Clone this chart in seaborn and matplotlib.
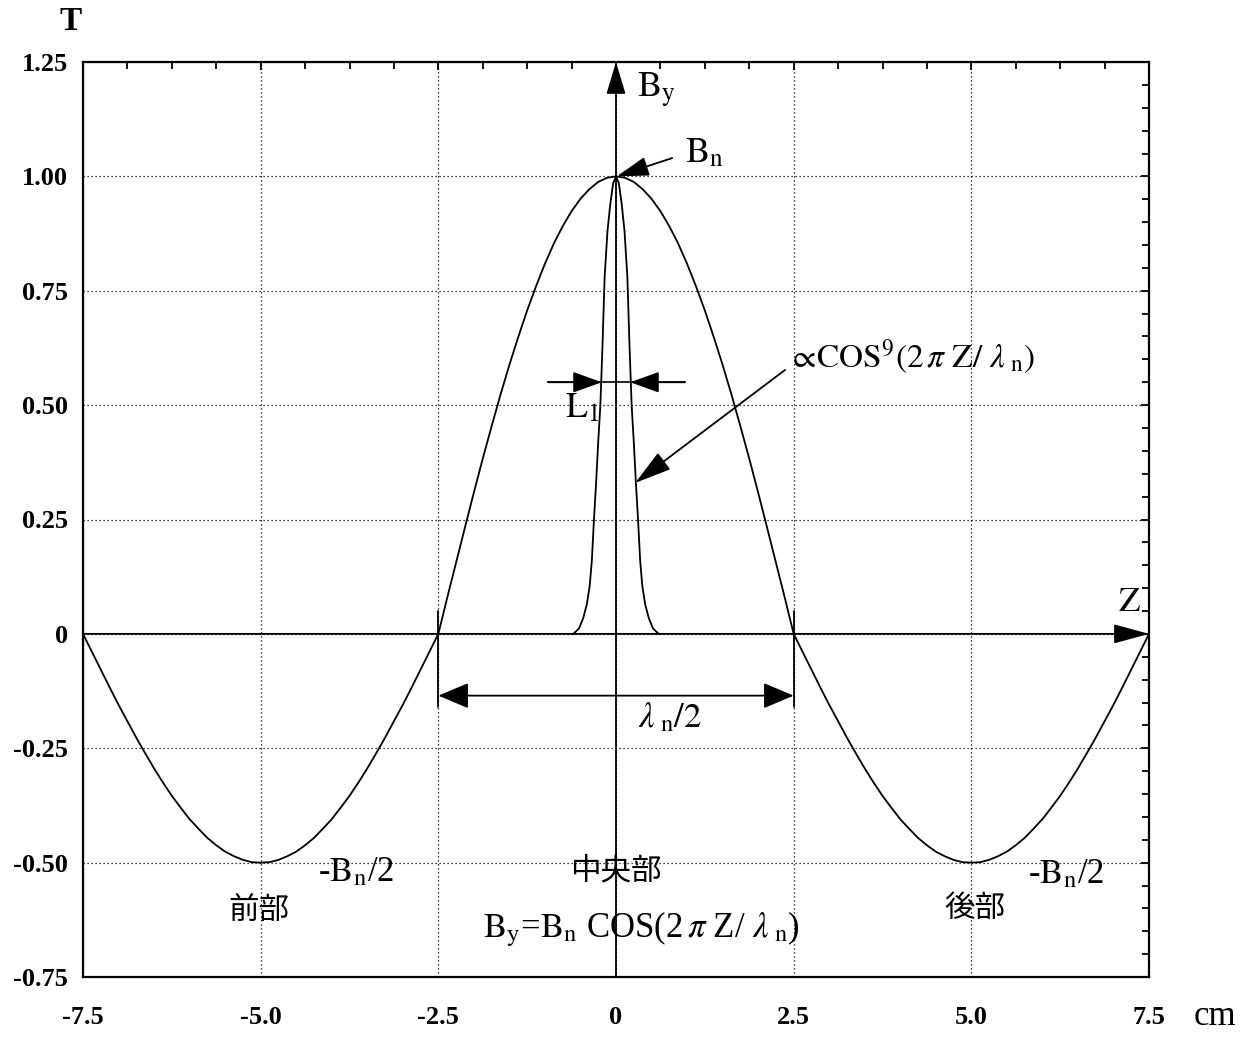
import matplotlib
matplotlib.use("Agg")
import matplotlib.pyplot as plt
import seaborn as sns
import pandas as pd
from matplotlib.ticker import FixedLocator, MultipleLocator

# ---- data ----
z_main = [-7.5, -7.375, -7.25, -7.125, -7.0, -6.875, -6.75, -6.625,
          -6.5, -6.375, -6.25, -6.125, -6.0, -5.875, -5.75, -5.625,
          -5.5, -5.375, -5.25, -5.125, -5.0, -4.875, -4.75, -4.625,
          -4.5, -4.375, -4.25, -4.125, -4.0, -3.875, -3.75, -3.625,
          -3.5, -3.375, -3.25, -3.125, -3.0, -2.875, -2.75, -2.625,
          -2.5, -2.375, -2.25, -2.125, -2.0, -1.875, -1.75, -1.625,
          -1.5, -1.375, -1.25, -1.125, -1.0, -0.875, -0.75, -0.625,
          -0.5, -0.375, -0.25, -0.125, 0.0, 0.125, 0.25, 0.375,
          0.5, 0.625, 0.75, 0.875, 1.0, 1.125, 1.25, 1.375,
          1.5, 1.625, 1.75, 1.875, 2.0, 2.125, 2.25, 2.375,
          2.5, 2.625, 2.75, 2.875, 3.0, 3.125, 3.25, 3.375,
          3.5, 3.625, 3.75, 3.875, 4.0, 4.125, 4.25, 4.375,
          4.5, 4.625, 4.75, 4.875, 5.0, 5.125, 5.25, 5.375,
          5.5, 5.625, 5.75, 5.875, 6.0, 6.125, 6.25, 6.375,
          6.5, 6.625, 6.75, 6.875, 7.0, 7.125, 7.25, 7.375, 7.5]
b_main = [0.0, -0.039, -0.078, -0.117, -0.155, -0.191, -0.227, -0.261,
          -0.294, -0.325, -0.354, -0.380, -0.405, -0.426, -0.446, -0.462,
          -0.476, -0.486, -0.494, -0.499, -0.5, -0.499, -0.494, -0.486,
          -0.476, -0.462, -0.446, -0.426, -0.405, -0.380, -0.354, -0.325,
          -0.294, -0.261, -0.227, -0.191, -0.155, -0.117, -0.078, -0.039,
          0.0, 0.079, 0.156, 0.233, 0.309, 0.383, 0.454, 0.523,
          0.588, 0.649, 0.707, 0.760, 0.809, 0.853, 0.891, 0.924,
          0.951, 0.972, 0.988, 0.997, 1.0, 0.997, 0.988, 0.972,
          0.951, 0.924, 0.891, 0.853, 0.809, 0.760, 0.707, 0.649,
          0.588, 0.523, 0.454, 0.383, 0.309, 0.233, 0.156, 0.079,
          0.0, -0.039, -0.078, -0.117, -0.155, -0.191, -0.227, -0.261,
          -0.294, -0.325, -0.354, -0.380, -0.405, -0.426, -0.446, -0.462,
          -0.476, -0.486, -0.494, -0.499, -0.5, -0.499, -0.494, -0.486,
          -0.476, -0.462, -0.446, -0.426, -0.405, -0.380, -0.354, -0.325,
          -0.294, -0.261, -0.227, -0.191, -0.155, -0.117, -0.078, -0.039, 0.0]

z_peak = [-0.60, -0.52, -0.46, -0.41, -0.37, -0.34, -0.31, -0.28, -0.25, -0.22,
          -0.19, -0.16, -0.12, -0.08, -0.04, 0.0,
          0.04, 0.08, 0.12, 0.16, 0.19, 0.22, 0.25, 0.28, 0.31, 0.34,
          0.37, 0.41, 0.46, 0.52, 0.60]
b_peak = [0.0, 0.012, 0.035, 0.065, 0.105, 0.16, 0.25, 0.33, 0.42, 0.50,
          0.63, 0.78, 0.88, 0.94, 0.985, 1.0,
          0.985, 0.94, 0.88, 0.78, 0.63, 0.50, 0.42, 0.33, 0.25, 0.16,
          0.105, 0.065, 0.035, 0.012, 0.0]

x_ticks = [-7.5, -5.0, -2.5, 0.0, 2.5, 5.0, 7.5]
x_tick_labels = ["-7.5", "-5.0", "-2.5", "0", "2.5", "5.0", "7.5"]
y_ticks = [-0.75, -0.5, -0.25, 0.0, 0.25, 0.5, 0.75, 1.0, 1.25]
y_tick_labels = ["-0.75", "-0.50", "-0.25", "0", "0.25", "0.50", "0.75", "1.00", "1.25"]

df_main = pd.DataFrame({"Z": z_main, "B": b_main})
df_peak = pd.DataFrame({"Z": z_peak, "B": b_peak})

# ---- style ----
sns.set_theme(style="white")
plt.rcParams["font.family"] = ["Liberation Serif", "DejaVu Serif"]
plt.rcParams["mathtext.fontset"] = "stix"

CJK = ["Noto Sans CJK JP", "DejaVu Sans"]

fig = plt.figure(figsize=(12.48, 10.38), dpi=100)
ax = fig.add_axes([83 / 1248, 1 - 977 / 1038, (1149 - 83) / 1248, (977 - 62) / 1038])

sns.lineplot(data=df_main, x="Z", y="B", ax=ax, color="black", lw=1.3,
             sort=False, estimator=None, zorder=3)
sns.lineplot(data=df_peak, x="Z", y="B", ax=ax, color="black", lw=1.3,
             sort=False, estimator=None, zorder=3)

ax.set_xlim(-7.5, 7.5)
ax.set_ylim(-0.75, 1.25)
ax.xaxis.set_major_locator(FixedLocator(x_ticks))
ax.set_xticklabels(x_tick_labels, fontweight="bold")
ax.yaxis.set_major_locator(FixedLocator(y_ticks))
ax.set_yticklabels(y_tick_labels, fontweight="bold")
ax.xaxis.set_minor_locator(MultipleLocator(0.625))
ax.yaxis.set_minor_locator(MultipleLocator(0.05))
ax.set_xlabel("")
ax.set_ylabel("")

ax.grid(True, which="major", color="black", linestyle=(0, (1, 2.2)), linewidth=0.9)
ax.set_axisbelow(True)

ax.tick_params(which="both", direction="in", top=True, right=True,
               color="black", width=1.3)
ax.tick_params(which="major", length=6)
ax.tick_params(which="minor", length=5)
ax.tick_params(axis="x", which="major", labelsize=19, pad=21, labelcolor="black")
ax.tick_params(axis="y", which="major", labelsize=19, pad=11, labelcolor="black")
for s in ax.spines.values():
    s.set_color("black")
    s.set_linewidth(1.6)

# ---- axis arrows ----
def arrow(tail, head, hl=2.0, hw=0.6, style="-|>", lw=1.3):
    ax.annotate("", xy=head, xytext=tail, xycoords="data", textcoords="data",
                annotation_clip=False,
                arrowprops=dict(arrowstyle=f"{style},head_length={hl},head_width={hw}",
                                mutation_scale=10, color="black", lw=lw,
                                shrinkA=0, shrinkB=0), zorder=4)

arrow((-7.5, 0.0), (7.5, 0.0), hl=2.2, hw=0.6)          # Z axis
arrow((0.0, -0.75), (0.0, 1.25), hl=2.0, hw=0.6)        # By axis
arrow((0.79, 1.04), (0.01, 1.0), hl=2.0, hw=0.6)        # Bn pointer
arrow((2.38, 0.577), (0.27, 0.33), hl=2.3, hw=0.65)     # cos^9 pointer
arrow((-2.5, -0.135), (2.5, -0.135), hl=1.9, hw=0.8, style="<|-|>")  # lambda/2

# L1 dimension
ax.plot([-0.96, 0.97], [0.55, 0.55], color="black", lw=1.2, zorder=4)
arrow((-0.96, 0.55), (-0.2, 0.55), hl=1.8, hw=0.65)
arrow((0.97, 0.55), (0.2, 0.55), hl=1.8, hw=0.65)

# extension lines at +-2.5
for zx in (-2.5, 2.5):
    ax.plot([zx, zx], [0.05, -0.16], color="black", lw=1.3, zorder=4)

# ---- texts ----
kw = dict(color="black", clip_on=False)
ax.text(-7.68, 1.338, "T", fontsize=24, fontweight="bold", ha="center", va="center", **kw)
ax.text(8.43, -0.855, "cm", fontsize=25, ha="center", va="baseline", **kw)
ax.text(0.29, 1.172, r"$\mathrm{B}_{\mathrm{y}}$", fontsize=26, ha="left", va="baseline", **kw)
ax.text(0.97, 1.031, r"$\mathrm{B}_{\mathrm{n}}$", fontsize=26, ha="left", va="baseline", **kw)
ax.text(2.42, 0.581, r"$\propto\!\mathrm{COS}^{9}(2\,\pi\ \mathrm{Z}/\ \lambda_{\ \mathrm{n}})$",
        fontsize=24, ha="left", va="baseline", **kw)
ax.text(-0.72, 0.474, r"$\mathrm{L}_{1}$", fontsize=26, ha="left", va="baseline", **kw)
ax.text(7.06, 0.05, r"$\mathrm{Z}$", fontsize=25, ha="left", va="baseline", **kw)
ax.text(0.31, -0.205, r"$\lambda_{\ \mathrm{n}}/2$", fontsize=25, ha="left", va="baseline", **kw)
ax.text(-4.19, -0.54, r"-$\mathrm{B}_{\mathrm{n}}$/2", fontsize=25, ha="left", va="baseline", **kw)
ax.text(5.80, -0.544, r"-$\mathrm{B}_{\mathrm{n}}$/2", fontsize=25, ha="left", va="baseline", **kw)
ax.text(-1.87, -0.662,
        r"$\mathrm{B}_{\mathrm{y}}$=$\mathrm{B}_{\mathrm{n}}$ COS(2$\,\pi\ $Z/ $\lambda_{\ \mathrm{n}}$)",
        fontsize=25, ha="left", va="baseline", **kw)
ax.text(-5.02, -0.607, "前部", fontsize=22, ha="center", va="center", family=CJK, **kw)
ax.text(0.0, -0.518, "中央部", fontsize=22, ha="center", va="center", family=CJK, **kw)
ax.text(5.05, -0.60, "後部", fontsize=22, ha="center", va="center", family=CJK, **kw)

fig.savefig("out.png", dpi=100)
